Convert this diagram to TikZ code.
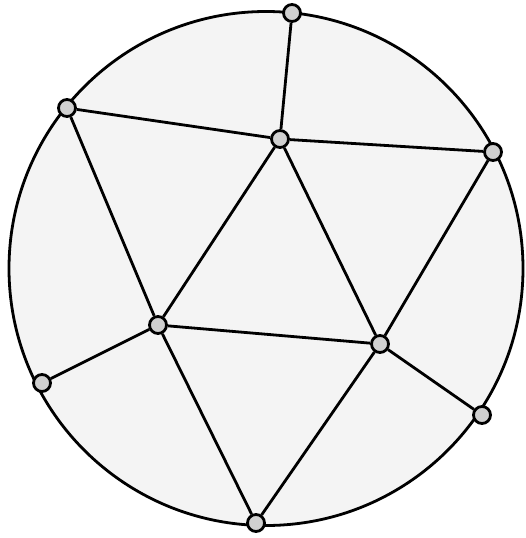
\documentclass[tikz,border=0pt]{standalone}
\definecolor{diskfill}{HTML}{F4F4F4}
\definecolor{dotfill}{HTML}{D0D0D0}
\tikzset{
  vtx/.style={circle, draw=black, fill=dotfill, line width=2.8pt, minimum size=17pt, inner sep=0pt},
  edge/.style={line width=2.8pt, black},
}
\begin{document}
\begin{tikzpicture}[x=1pt,y=-1pt]
\useasboundingbox (0,0) rectangle (525,538);
\fill[white] (0,0) rectangle (525,538);
\draw[line width=2.8pt, fill=diskfill] (266,268.5) circle[radius=257];
\node[vtx] (A) at (292,13) {};
\node[vtx] (B) at (67,108) {};
\node[vtx] (C) at (280,139) {};
\node[vtx] (D) at (493,152) {};
\node[vtx] (E) at (158,325) {};
\node[vtx] (F) at (380,344) {};
\node[vtx] (G) at (42,383) {};
\node[vtx] (H) at (482,415) {};
\node[vtx] (I) at (256,523) {};
\draw[edge] (A) -- (C);
\draw[edge] (B) -- (C);
\draw[edge] (C) -- (D);
\draw[edge] (B) -- (E);
\draw[edge] (C) -- (E);
\draw[edge] (C) -- (F);
\draw[edge] (D) -- (F);
\draw[edge] (E) -- (F);
\draw[edge] (E) -- (G);
\draw[edge] (F) -- (H);
\draw[edge] (E) -- (I);
\draw[edge] (F) -- (I);
\end{tikzpicture}
\end{document}
